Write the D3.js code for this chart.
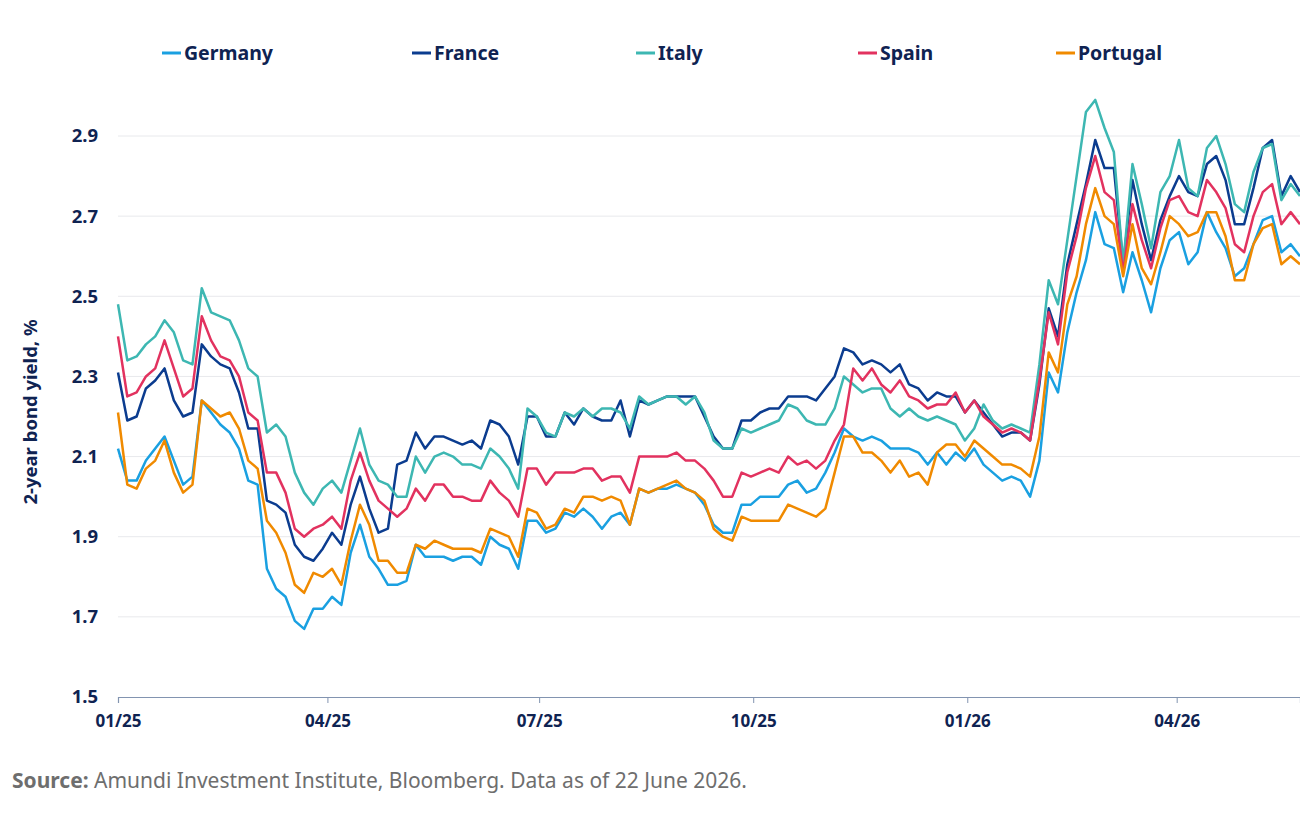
<!DOCTYPE html>
<html>
<head>
<meta charset="utf-8">
<script src="https://d3js.org/d3.v7.min.js"></script>
<style>
  body { margin: 0; background: #ffffff; font-family: "Noto Sans", sans-serif; }
</style>
</head>
<body>
<div id="chart"></div>
<script>
// series names + colours (legend order)
var countries = ["Germany", "France", "Italy", "Spain", "Portugal"];
var colors = ["#1aa0e1", "#0b3c8f", "#3db7b2", "#e2325f", "#f08a00"];

// observations every 4 days from 1 Jan 2025
var startDate = "2025-01-01";
var stepDays = 4;

var yTicks = [1.5, 1.7, 1.9, 2.1, 2.3, 2.5, 2.7, 2.9];
var xTickDates = ["2025-01-01", "2025-04-01", "2025-07-01", "2025-10-01", "2026-01-01", "2026-04-01"];
var xTickLabels = ["01/25", "04/25", "07/25", "10/25", "01/26", "04/26"];

var germany = [2.12,2.04,2.04,2.09,2.12,2.15,2.09,2.03,2.05,2.24,
  2.21,2.18,2.16,2.12,2.04,2.03,1.82,1.77,1.75,1.69,
  1.67,1.72,1.72,1.75,1.73,1.86,1.93,1.85,1.82,1.78,
  1.78,1.79,1.88,1.85,1.85,1.85,1.84,1.85,1.85,1.83,
  1.90,1.88,1.87,1.82,1.94,1.94,1.91,1.92,1.96,1.95,
  1.97,1.95,1.92,1.95,1.96,1.93,2.02,2.01,2.02,2.02,
  2.03,2.02,2.01,1.98,1.93,1.91,1.91,1.98,1.98,2.00,
  2.00,2.00,2.03,2.04,2.01,2.02,2.06,2.11,2.17,2.15,
  2.14,2.15,2.14,2.12,2.12,2.12,2.11,2.08,2.11,2.08,
  2.11,2.09,2.12,2.08,2.06,2.04,2.05,2.04,2.00,2.09,
  2.31,2.26,2.41,2.51,2.59,2.71,2.63,2.62,2.51,2.61,
  2.54,2.46,2.57,2.64,2.66,2.58,2.61,2.71,2.66,2.62,
  2.55,2.57,2.63,2.69,2.70,2.61,2.63,2.60];

var france = [2.31,2.19,2.20,2.27,2.29,2.32,2.24,2.20,2.21,2.38,
  2.35,2.33,2.32,2.26,2.17,2.17,1.99,1.98,1.96,1.88,
  1.85,1.84,1.87,1.91,1.88,1.98,2.05,1.97,1.91,1.92,
  2.08,2.09,2.16,2.12,2.15,2.15,2.14,2.13,2.14,2.12,
  2.19,2.18,2.15,2.08,2.20,2.20,2.15,2.15,2.21,2.18,
  2.22,2.20,2.19,2.19,2.24,2.15,2.24,2.23,2.24,2.25,
  2.25,2.25,2.25,2.20,2.15,2.12,2.12,2.19,2.19,2.21,
  2.22,2.22,2.25,2.25,2.25,2.24,2.27,2.30,2.37,2.36,
  2.33,2.34,2.33,2.31,2.33,2.28,2.27,2.24,2.26,2.25,
  2.25,2.21,2.24,2.21,2.18,2.15,2.16,2.16,2.14,2.28,
  2.47,2.40,2.58,2.68,2.78,2.89,2.82,2.82,2.58,2.79,
  2.68,2.59,2.69,2.75,2.80,2.76,2.75,2.83,2.85,2.79,
  2.68,2.68,2.77,2.87,2.89,2.75,2.80,2.76];

var italy = [2.48,2.34,2.35,2.38,2.40,2.44,2.41,2.34,2.33,2.52,
  2.46,2.45,2.44,2.39,2.32,2.30,2.16,2.18,2.15,2.06,
  2.01,1.98,2.02,2.04,2.01,2.09,2.17,2.08,2.04,2.03,
  2.00,2.00,2.10,2.06,2.10,2.11,2.10,2.08,2.08,2.07,
  2.12,2.10,2.07,2.02,2.22,2.20,2.16,2.15,2.21,2.20,
  2.22,2.20,2.22,2.22,2.21,2.17,2.25,2.23,2.24,2.25,
  2.25,2.23,2.25,2.21,2.14,2.12,2.12,2.17,2.16,2.17,
  2.18,2.19,2.23,2.22,2.19,2.18,2.18,2.22,2.30,2.28,
  2.26,2.27,2.27,2.22,2.20,2.22,2.20,2.19,2.20,2.19,
  2.18,2.14,2.17,2.23,2.19,2.17,2.18,2.17,2.16,2.33,
  2.54,2.48,2.64,2.80,2.96,2.99,2.92,2.86,2.58,2.83,
  2.73,2.62,2.76,2.80,2.89,2.77,2.75,2.87,2.90,2.83,
  2.73,2.71,2.81,2.87,2.88,2.74,2.78,2.75];

var spain = [2.40,2.25,2.26,2.30,2.32,2.39,2.32,2.25,2.27,2.45,
  2.39,2.35,2.34,2.30,2.21,2.19,2.06,2.06,2.01,1.92,
  1.90,1.92,1.93,1.95,1.92,2.04,2.11,2.04,1.99,1.97,
  1.95,1.97,2.02,1.99,2.03,2.03,2.00,2.00,1.99,1.99,
  2.04,2.01,1.99,1.95,2.07,2.07,2.03,2.06,2.06,2.06,
  2.07,2.07,2.04,2.05,2.05,2.01,2.10,2.10,2.10,2.10,
  2.11,2.09,2.09,2.07,2.04,2.00,2.00,2.06,2.05,2.06,
  2.07,2.06,2.10,2.08,2.09,2.07,2.09,2.14,2.18,2.32,
  2.29,2.32,2.28,2.26,2.29,2.25,2.24,2.22,2.23,2.23,
  2.26,2.21,2.24,2.20,2.18,2.16,2.17,2.16,2.14,2.29,
  2.46,2.38,2.56,2.65,2.77,2.85,2.76,2.74,2.56,2.73,
  2.64,2.57,2.67,2.74,2.75,2.71,2.70,2.79,2.76,2.72,
  2.63,2.61,2.70,2.76,2.78,2.68,2.71,2.68];

var portugal = [2.21,2.03,2.02,2.07,2.09,2.14,2.06,2.01,2.03,2.24,
  2.22,2.20,2.21,2.17,2.09,2.07,1.94,1.91,1.86,1.78,
  1.76,1.81,1.80,1.82,1.78,1.89,1.98,1.93,1.84,1.84,
  1.81,1.81,1.88,1.87,1.89,1.88,1.87,1.87,1.87,1.86,
  1.92,1.91,1.90,1.85,1.97,1.96,1.92,1.93,1.97,1.96,
  2.00,2.00,1.99,2.00,1.99,1.93,2.02,2.01,2.02,2.03,
  2.04,2.02,2.01,1.99,1.92,1.90,1.89,1.95,1.94,1.94,
  1.94,1.94,1.98,1.97,1.96,1.95,1.97,2.06,2.15,2.15,
  2.11,2.11,2.09,2.06,2.09,2.05,2.06,2.03,2.11,2.13,
  2.13,2.10,2.14,2.12,2.10,2.08,2.08,2.07,2.05,2.15,
  2.36,2.31,2.48,2.55,2.68,2.77,2.70,2.68,2.55,2.68,
  2.57,2.53,2.61,2.70,2.68,2.65,2.66,2.71,2.71,2.65,
  2.54,2.54,2.63,2.67,2.68,2.58,2.60,2.58];

var seriesValues = [germany, france, italy, spain, portugal];

var width = 1300, height = 822;
var navy = "#0f2352";

var parse = d3.timeParse("%Y-%m-%d");
var start = parse(startDate);
var n = germany.length;
var dates = d3.range(n).map(function(i) { return d3.timeDay.offset(start, i * stepDays); });

var svg = d3.select("#chart").append("svg")
  .attr("width", width)
  .attr("height", height)
  .style("display", "block");

var x = d3.scaleTime()
  .domain([start, dates[n - 1]])
  .range([118, 1300]);

var y = d3.scaleLinear()
  .domain([1.5, 2.9])
  .range([697, 136]);

// gridlines
svg.append("g").selectAll("line")
  .data(yTicks.slice(1))
  .enter().append("line")
  .attr("x1", 118).attr("x2", 1300)
  .attr("y1", function(d) { return y(d); })
  .attr("y2", function(d) { return y(d); })
  .attr("stroke", "#e8e9ec")
  .attr("stroke-width", 1);

// y axis labels
var yAxis = d3.axisLeft(y).tickValues(yTicks).tickSize(0).tickPadding(20)
  .tickFormat(d3.format(".1f"));
var gy = svg.append("g").attr("transform", "translate(118,0)").call(yAxis);
gy.select(".domain").remove();
gy.selectAll("text")
  .attr("fill", navy)
  .style("font-family", "'Noto Sans', sans-serif")
  .style("font-weight", "700")
  .style("font-size", "18.5px");

// x axis
var xAxis = d3.axisBottom(x)
  .tickValues(xTickDates.map(parse))
  .tickFormat(function(d, i) { return xTickLabels[i]; })
  .tickSize(6)
  .tickPadding(12);
var gx = svg.append("g").attr("transform", "translate(0,697)").call(xAxis);
gx.select(".domain").attr("stroke", "#8294b0").attr("stroke-width", 1.2);
gx.selectAll(".tick line").attr("stroke", "#8294b0");
gx.selectAll("text")
  .attr("fill", navy)
  .style("font-family", "'Noto Sans', sans-serif")
  .style("font-weight", "700")
  .style("font-size", "17px");

// lines
var line = d3.line()
  .x(function(d) { return x(d.date); })
  .y(function(d) { return y(d.v); });

seriesValues.forEach(function(vals, k) {
  var pts = vals.map(function(v, i) { return { date: dates[i], v: v }; });
  svg.append("path")
    .datum(pts)
    .attr("d", line)
    .attr("fill", "none")
    .attr("stroke", colors[k])
    .attr("stroke-width", 2.5)
    .attr("stroke-linejoin", "round");
});

// legend
var legendX = [162, 412, 636, 858, 1056];
var legend = svg.append("g").selectAll("g")
  .data(countries)
  .enter().append("g")
  .attr("transform", function(d, i) { return "translate(" + legendX[i] + ",53)"; });
legend.append("line")
  .attr("x1", 0).attr("x2", 19)
  .attr("stroke", function(d, i) { return colors[i]; })
  .attr("stroke-width", 3);
legend.append("text")
  .attr("x", 22)
  .attr("dy", "0.35em")
  .attr("fill", navy)
  .style("font-weight", "700")
  .style("font-size", "19.5px")
  .text(function(d) { return d; });

// y title
svg.append("text")
  .attr("transform", "translate(37,412) rotate(-90)")
  .attr("text-anchor", "middle")
  .attr("fill", navy)
  .style("font-weight", "700")
  .style("font-size", "18.5px")
  .text("2-year bond yield, %");

// source
var src = svg.append("text")
  .attr("x", 12)
  .attr("y", 788)
  .attr("fill", "#6e6e6e")
  .style("font-size", "21px");
src.append("tspan").style("font-weight", "700").text("Source:");
src.append("tspan").text(" Amundi Investment Institute, Bloomberg. Data as of 22 June 2026.");
</script>
</body>
</html>
